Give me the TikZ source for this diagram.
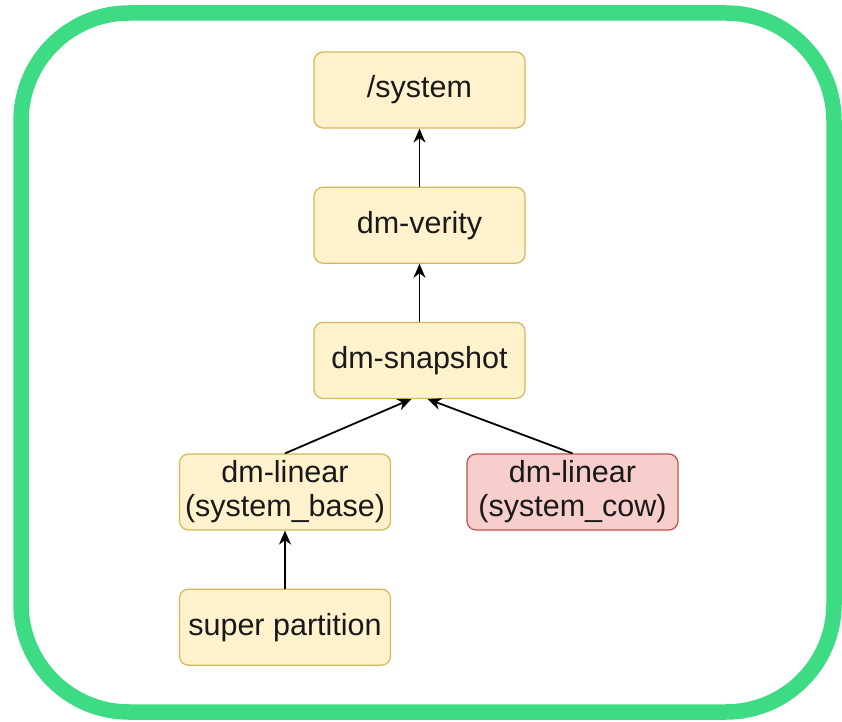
\documentclass[tikz,border=0pt]{standalone}
\usepackage{fontspec}
\setmainfont{Liberation Sans}
\usetikzlibrary{positioning,arrows.meta}
\definecolor{droid}{HTML}{3DDC84}
\definecolor{boxfill}{HTML}{FFF2CC}
\definecolor{boxline}{HTML}{D6B656}
\definecolor{cowfill}{HTML}{F8CECC}
\definecolor{cowline}{HTML}{B85450}
\tikzset{
    box/.style={draw=boxline, fill=boxfill, line width=1.2pt, rounded corners=9pt,
        minimum width=211pt, minimum height=76pt, inner sep=0pt, align=center,
        text=black!90, font=\fontsize{30.5}{34}\selectfont},
    cowbox/.style={box, draw=cowline, fill=cowfill},
    link/.style={-{Stealth[length=14pt,width=12pt]}, line width=1.8pt}
}
\begin{document}
\begin{tikzpicture}[x=1pt,y=1pt]
    \useasboundingbox (0,0) rectangle (842,721);
    % frame
    \draw[droid, line width=15.5pt, rounded corners=108pt] (21,9) rectangle (834,708);
    % stack
    \node[box] (system) at (419.5,631) {/system};
    \node[box, below=58pt of system] (verity) {dm-verity};
    \node[box, below=58pt of verity] (snap) {dm-snapshot};
    \node[box] (base) at (285,229) {dm-linear\\(system\_base)};
    \node[cowbox] (cow) at (572.5,229) {dm-linear\\(system\_cow)};
    \node[box, below=58pt of base] (super) {super partition};
    % links
    \draw[link] (verity) -- (system);
    \draw[link] (snap) -- (verity);
    \draw[link] (base.north) -- ([xshift=-8pt]snap.south);
    \draw[link] (cow.north) -- ([xshift=8pt]snap.south);
    \draw[link] (super) -- (base);
\end{tikzpicture}
\end{document}
